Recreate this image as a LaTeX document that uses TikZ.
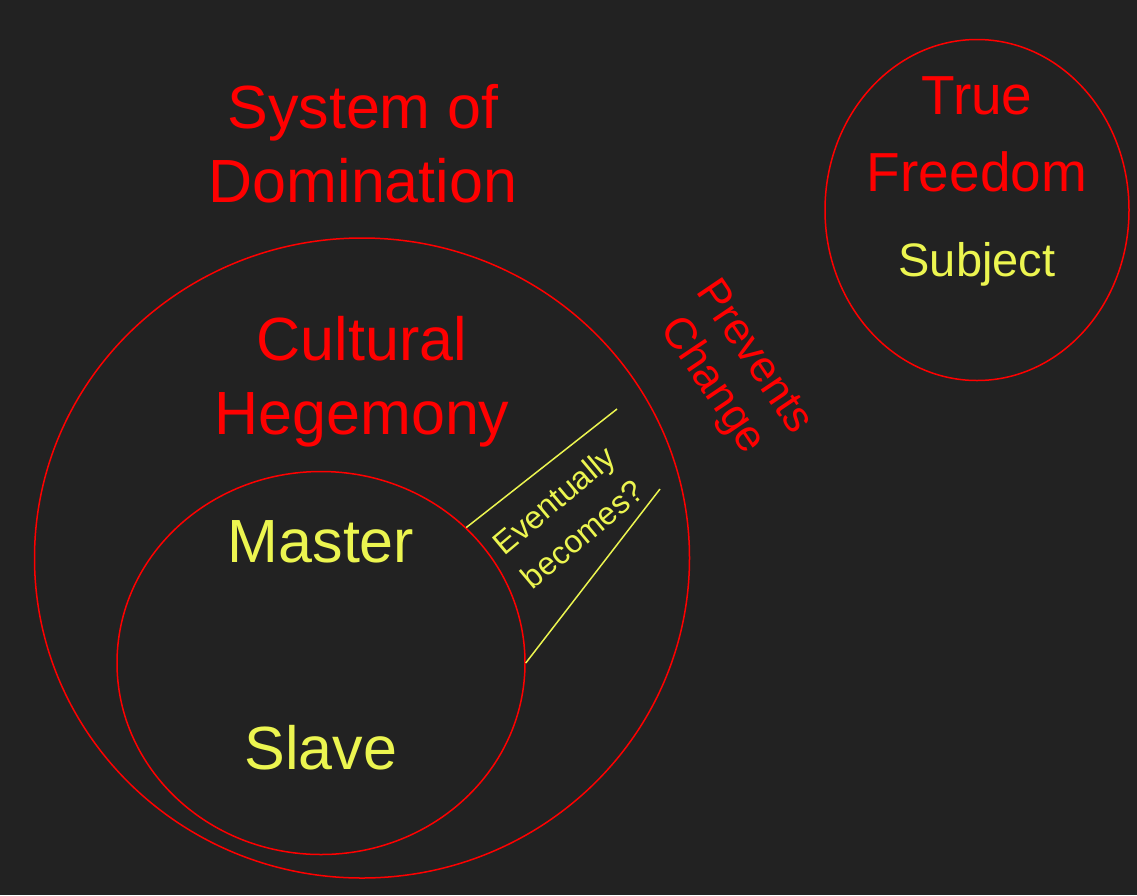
\documentclass[tikz,border=0pt]{standalone}
\usepackage{fontspec}
\setmainfont{Liberation Sans}
\usetikzlibrary{positioning,shapes.geometric}
\definecolor{bgdark}{RGB}{34,34,34}
\definecolor{domred}{RGB}{255,0,0}
\definecolor{domyellow}{RGB}{236,245,80}

\begin{document}
\begin{tikzpicture}[
    x=1pt, y=-1pt,
    ring/.style={draw=domred, ellipse, line width=1.5pt, inner sep=0pt},
    bigred/.style={text=domred, align=center, font=\fontsize{61}{74}\selectfont},
    bigyellow/.style={text=domyellow, font=\fontsize{61}{74}\selectfont},
    freered/.style={text=domred, align=center, font=\fontsize{55}{77}\selectfont},
    sidered/.style={text=domred, align=center, font=\fontsize{44}{50}\selectfont},
    noteyellow/.style={text=domyellow, align=center, font=\fontsize{32}{44}\selectfont},
    link/.style={draw=domyellow, line width=1.5pt}
  ]

  % --- Background ---
  \fill[bgdark] (0,0) rectangle (1137,895);

  % --- Circles ---
  \node[ring, minimum width=655pt, minimum height=640pt] (outer) at (362,558) {};
  \node[ring, minimum width=408pt, minimum height=383pt] (inner) at (321,663) {};
  \node[ring, minimum width=304pt, minimum height=341pt] (free) at (977,210) {};

  % --- Red labels ---
  \node[bigred] (sysdom) at (363,144) {System of\\Domination};
  \node[bigred] (cultheg) at (362,382) {Cultural\\Hegemony};
  \node[freered] (truefree) at (977,134) {True\\Freedom};
  \node[sidered, rotate=-56] (prevent) at (732,372) {Prevents\\Change};

  % --- Yellow labels ---
  \node[bigyellow, anchor=base] (master) at (321,562) {Master};
  \node[bigyellow, anchor=base] (slave) at (321,769) {Slave};
  \node[text=domyellow, anchor=base, font=\fontsize{47}{56}\selectfont] (subject) at (977,276) {Subject};
  \node[noteyellow, rotate=40] (becomes) at (568,517) {Eventually\\becomes?};

  % --- Connector lines ---
  \coordinate (topend) at (617,409);
  \coordinate (lowend) at (660,489);
  \draw[link] (inner.43) -- (topend);
  \draw[link] (inner.east) -- (lowend);

\end{tikzpicture}
\end{document}
